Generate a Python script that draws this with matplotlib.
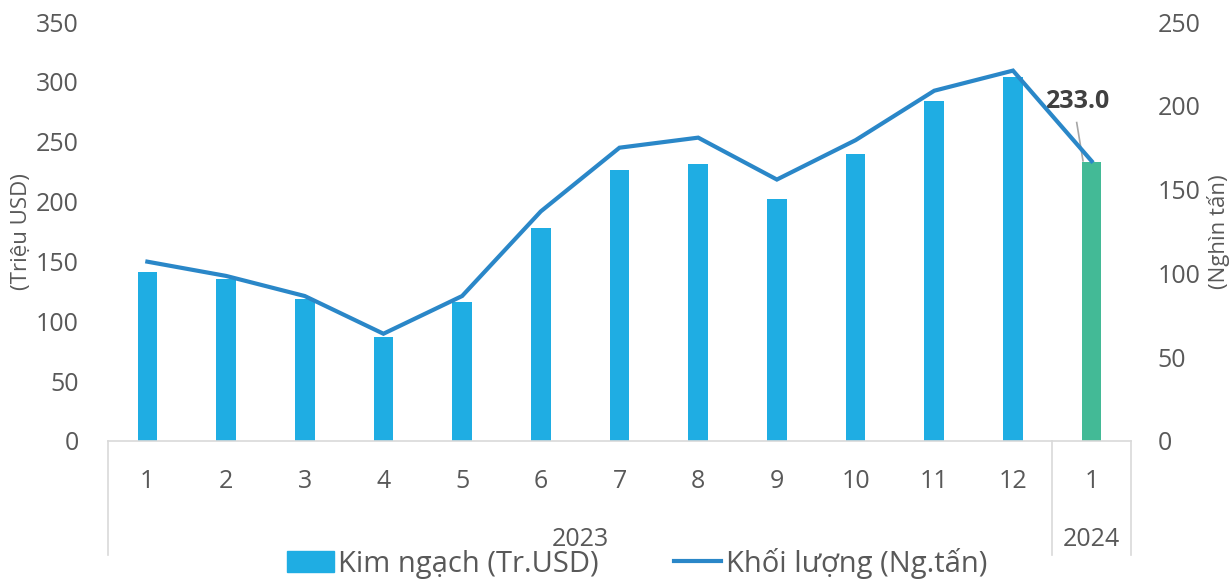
import matplotlib
matplotlib.use("Agg")
import matplotlib.pyplot as plt
from matplotlib.transforms import blended_transform_factory

plt.rcParams['font.family'] = ['Open Sans', 'DejaVu Sans']

# du lieu
months = ['1', '2', '3', '4', '5', '6', '7', '8', '9', '10', '11', '12', '1']
years = ['2023', '2024']
year_counts = [12, 1]
kim_ngach = [141, 135, 119, 87, 116, 178, 226, 231, 202, 240, 284, 304, 233.0]
khoi_luong = [107, 98.5, 86.5, 64, 86.5, 137, 175, 181, 156, 179.5, 209, 221, 167]

bar_blue = '#1FADE3'
bar_green = '#43BA96'
line_blue = '#2A87C8'
txt = '#595959'

fig = plt.figure(figsize=(12.32, 5.8), dpi=100)
ax = fig.add_axes([108 / 1232, 1 - 441 / 580, (1131 - 108) / 1232, (441 - 22) / 580])
ax2 = ax.twinx()

x = list(range(len(months)))
colors = [bar_blue] * 12 + [bar_green]
ax.bar(x, kim_ngach, width=0.25, color=colors, zorder=2)
ax2.plot(x, khoi_luong, color=line_blue, lw=3, solid_joinstyle='miter', zorder=3)

ax.set_xlim(-0.5, len(months) - 0.5)
ax.set_ylim(0, 350)
ax2.set_ylim(0, 250)
ax.set_yticks(range(0, 351, 50))
ax2.set_yticks(range(0, 251, 50))

for a in (ax, ax2):
    for s in a.spines.values():
        s.set_visible(False)
    a.tick_params(length=0, labelsize=18, colors=txt)
ax.spines['bottom'].set_visible(True)
ax.spines['bottom'].set_color('#D9D9D9')
ax.spines['bottom'].set_linewidth(1.2)
ax.tick_params(axis='y', pad=21)
ax2.tick_params(axis='y', pad=19)
ax.set_xticks(x)
ax.set_xticklabels(months)
ax.tick_params(axis='x', pad=20)

ax.set_ylabel('(Triệu USD)', fontsize=16, color=txt)
ax.yaxis.set_label_coords(-0.074, 0.5)
ax2.set_ylabel('(Nghìn tấn)', fontsize=16, color=txt)
ax2.yaxis.set_label_coords(1.074, 0.5)

# truc x nhom theo nam
tr = blended_transform_factory(ax.transData, ax.transAxes)
edge = -0.5
for yr, n in zip(years, year_counts):
    ax.plot([edge, edge], [0, -0.272], transform=tr, color='#D9D9D9', lw=1.2, clip_on=False)
    ax.text(edge + n / 2, -0.236, yr, transform=tr, ha='center', va='center', fontsize=18, color=txt)
    edge += n
ax.plot([edge, edge], [0, -0.272], transform=tr, color='#D9D9D9', lw=1.2, clip_on=False)

# nhan gia tri cot cuoi
ax.plot([x[-1] - 0.19, x[-1] - 0.11], [266, kim_ngach[-1] + 1], color='#A6A6A6', lw=1.2, zorder=4)
ax.text(x[-1] - 0.19, 284, f'{kim_ngach[-1]:.1f}', ha='center', va='center',
        fontsize=18, fontweight='bold', color='#404040')

handles = [plt.Rectangle((0, 0), 1, 1, color=bar_blue),
           plt.Line2D([0], [0], color=line_blue, lw=3)]
fig.legend(handles, ['Kim ngạch (Tr.USD)', 'Khối lượng (Ng.tấn)'], loc='center',
           bbox_to_anchor=(0.517, 0.029), ncol=2, frameon=False, fontsize=21,
           labelcolor=txt, handlelength=1.6, handletextpad=0.15, columnspacing=2.6,
           borderpad=0)

fig.savefig('out.png', dpi=100)
